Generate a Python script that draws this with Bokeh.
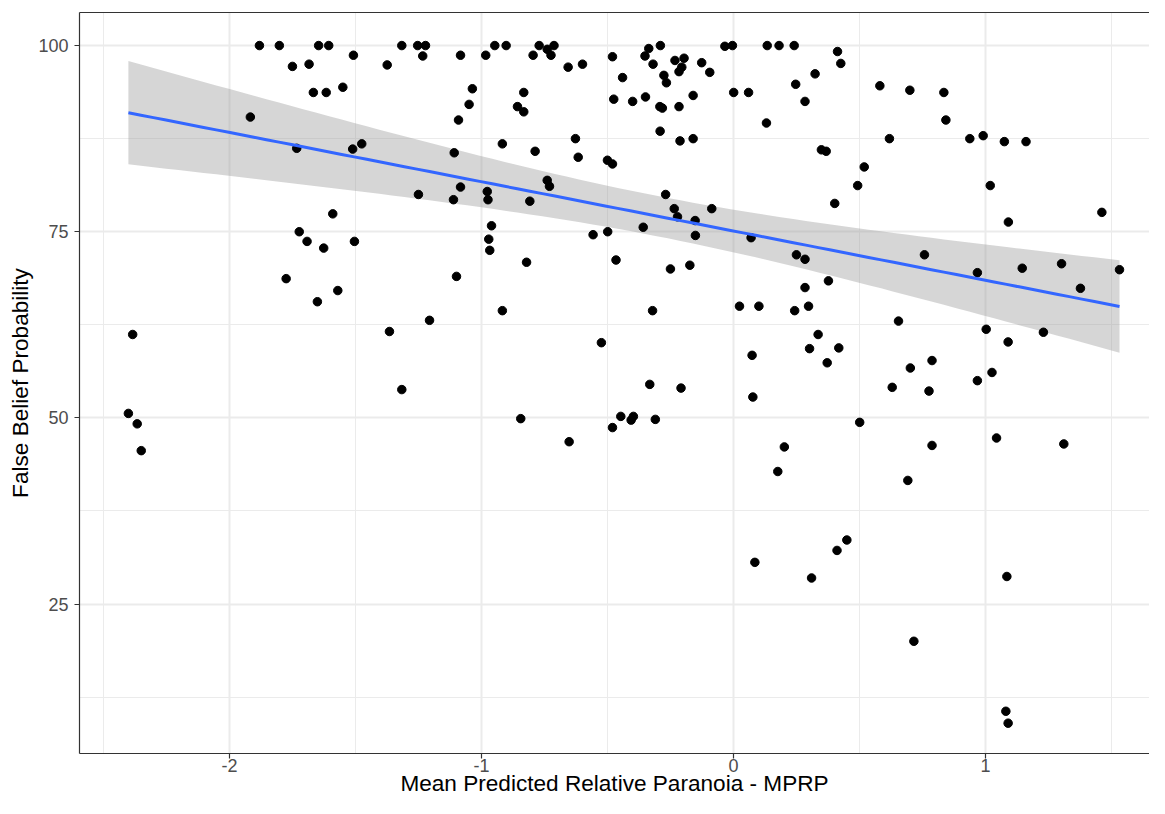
import numpy as np
from bokeh.plotting import figure
from bokeh.models import FixedTicker, LinearAxis, Range1d
from bokeh.embed import file_html
from bokeh.resources import INLINE

# Mean Predicted Relative Paranoia (MPRP) and False Belief Probability
mprp = [
    -1.881, -1.802, -1.646, -1.606, -1.508, -1.316, -1.253, -1.222, -1.233, -1.750,
    -1.684, -1.374, -1.667, -1.616, -1.550, -1.917, -1.733, -1.511, -1.475, -1.250,
    -1.590, -1.723, -1.692, -1.626, -1.504, -1.775, -1.570, -1.651, -1.206, -2.384,
    -1.365, -1.316, -2.401, -2.366, -2.350,
    -1.083, -0.983, -0.947, -0.902, -0.771, -0.795, -0.739, -0.724, -0.712, -0.656,
    -0.599, -1.036, -1.049, -1.091, -0.832, -0.857, -0.832, -0.917, -0.787, -0.627,
    -0.616, -0.500, -0.480, -1.108, -1.083, -1.111, -0.977, -0.974, -0.808, -0.739,
    -0.730, -0.960, -0.971, -0.967, -0.821, -0.557, -0.499, -0.466, -1.099, -0.917,
    -0.524, -0.332, -0.208,
    -0.480, -0.440, -0.475, -0.400, -0.349, -0.351, -0.336, -0.290, -0.319, -0.276,
    -0.266, -0.292, -0.282, -0.232, -0.196, -0.216, -0.205, -0.126, -0.094, -0.216,
    -0.160, -0.291, -0.212, -0.160, -0.034, -0.004, 0.134, 0.181, 0.241, 0.001,
    0.060, 0.247, 0.284, 0.131, -0.269, -0.235, -0.222, -0.152, -0.086, -0.358,
    -0.151, 0.070, -0.250, -0.173, 0.250, 0.284, 0.284, 0.024, 0.101, 0.243,
    0.298, -0.321, 0.074, 0.302,
    0.077, -0.844, -0.652, -0.480, -0.447, -0.406, -0.397, -0.310, 0.202, 0.176,
    0.085, 0.310,
    0.413, 0.426, 0.324, 0.581, 0.700, 0.835, 0.843, 0.619, 0.938, 0.991,
    1.075, 1.161, 0.349, 0.368, 0.519, 0.493, 1.019, 0.402, 1.462, 1.091,
    0.758, 0.968, 1.146, 1.302, 1.532, 1.377, 0.377, 0.655, 0.336, 0.418,
    0.372, 1.003, 1.230, 1.090, 0.702, 0.788, 0.968, 1.026, 0.630, 0.776,
    0.501, 1.044, 1.311, 0.788, 0.692, 0.450, 0.411, 1.085, 0.716, 1.081,
    1.090,
]
false_belief = [
    100.0, 100.0, 100.0, 100.0, 98.7, 100.0, 100.0, 100.0, 98.6, 97.2,
    97.5, 97.4, 93.7, 93.7, 94.4, 90.4, 86.2, 86.1, 86.8, 80.0,
    77.4, 75.0, 73.7, 72.8, 73.7, 68.7, 67.1, 65.6, 63.1, 61.2,
    61.6, 53.8, 50.6, 49.2, 45.6,
    98.7, 98.7, 100.0, 100.0, 100.0, 98.7, 99.5, 98.7, 100.0, 97.1,
    97.5, 94.2, 92.1, 90.0, 93.7, 91.8, 91.1, 86.8, 85.8, 87.5,
    85.0, 84.6, 84.1, 85.6, 81.0, 79.3, 80.4, 79.3, 79.1, 81.9,
    81.1, 75.8, 74.0, 72.5, 70.9, 74.6, 75.0, 71.2, 69.0, 64.4,
    60.1, 54.5, 54.0,
    98.5, 95.7, 92.8, 92.5, 93.1, 98.6, 99.6, 100.0, 97.5, 96.0,
    95.0, 91.8, 91.6, 98.0, 98.3, 96.5, 97.1, 97.7, 96.4, 91.8,
    93.3, 88.5, 87.2, 87.5, 99.9, 100.0, 100.0, 100.0, 100.0, 93.7,
    93.7, 94.8, 92.5, 89.6, 80.0, 78.1, 77.0, 76.5, 78.1, 75.6,
    74.5, 74.2, 70.0, 70.5, 71.9, 71.3, 67.5, 65.0, 65.0, 64.4,
    65.0, 64.4, 58.4, 59.3,
    52.8, 49.9, 46.8, 48.7, 50.2, 49.7, 50.2, 49.8, 46.1, 42.8,
    30.6, 28.5,
    99.2, 97.6, 96.2, 94.6, 94.0, 93.7, 90.0, 87.5, 87.5, 87.9,
    87.1, 87.1, 86.0, 85.8, 83.7, 81.2, 81.2, 78.8, 77.6, 76.3,
    71.9, 69.5, 70.1, 70.7, 69.9, 67.4, 68.4, 63.0, 61.2, 59.4,
    57.4, 61.9, 61.5, 60.2, 56.7, 57.7, 55.0, 56.1, 54.1, 53.6,
    49.4, 47.3, 46.5, 46.3, 41.6, 33.6, 32.2, 28.7, 20.0, 10.6,
    9.0,
]

x_ticks = [-2, -1, 0, 1]
x_tick_labels = ["-2", "-1", "0", "1"]
x_minor = [-2.5, -1.5, -0.5, 0.5, 1.5]
y_ticks = [25, 50, 75, 100]
y_tick_labels = ["25", "50", "75", "100"]
y_minor = [12.5, 37.5, 62.5, 87.5]

x_title = "Mean Predicted Relative Paranoia - MPRP"
y_title = "False Belief Probability"

# linear model fit with 95% confidence band (as geom_smooth(method = "lm"))
x = np.array(mprp)
y = np.array(false_belief)
n = len(x)
slope, intercept = np.polyfit(x, y, 1)
xs = np.linspace(x.min(), x.max(), 80)
fit = intercept + slope * xs
resid = y - (intercept + slope * x)
s = np.sqrt(np.sum(resid ** 2) / (n - 2))
sxx = np.sum((x - x.mean()) ** 2)
se = s * np.sqrt(1.0 / n + (xs - x.mean()) ** 2 / sxx)
tq = 1.972
lo = fit - tq * se
hi = fit + tq * se

FONT = "Liberation Sans"

p = figure(
    width=1149, height=798,
    x_range=Range1d(-2.595, 1.651), y_range=Range1d(4.93, 104.44),
    output_backend="svg", toolbar_location=None,
    min_border_left=79, min_border_right=0, min_border_top=12, min_border_bottom=30,
    background_fill_color="white", border_fill_color="white",
)
p.outline_line_color = None

# grids
p.xaxis.ticker = FixedTicker(ticks=x_ticks, minor_ticks=x_minor)
p.yaxis.ticker = FixedTicker(ticks=y_ticks, minor_ticks=y_minor)
p.xgrid.ticker = FixedTicker(ticks=x_ticks, minor_ticks=x_minor)
p.ygrid.ticker = FixedTicker(ticks=y_ticks, minor_ticks=y_minor)
for g in (p.xgrid, p.ygrid):
    g.grid_line_color = "#EBEBEB"
    g.grid_line_width = 2
    g.minor_grid_line_color = "#EBEBEB"
    g.minor_grid_line_width = 1

# axes
for ax in (p.xaxis, p.yaxis):
    ax.axis_line_color = "#333333"
    ax.axis_line_width = 1.2
    ax.major_tick_line_color = "#333333"
    ax.major_tick_line_width = 1.2
    ax.major_tick_in = 0
    ax.major_tick_out = 5
    ax.minor_tick_line_color = None
    ax.major_label_text_color = "#4D4D4D"
    ax.major_label_text_font = FONT
    ax.major_label_text_font_size = "18px"
    ax.axis_label_text_font = FONT
    ax.axis_label_text_font_size = "22.6px"
    ax.axis_label_text_font_style = "normal"
    ax.axis_label_text_color = "black"

p.xaxis.axis_label = x_title
p.yaxis.axis_label = y_title
p.xaxis.major_label_overrides = {float(t): l for t, l in zip(x_ticks, x_tick_labels)}
p.yaxis.major_label_overrides = {float(t): l for t, l in zip(y_ticks, y_tick_labels)}
p.xaxis.major_label_standoff = 0
p.xaxis.axis_label_standoff = -4
p.yaxis.major_label_standoff = 6
p.yaxis.axis_label_standoff = 2

# top panel border
top = LinearAxis(ticker=FixedTicker(ticks=[]), axis_line_color="#333333", axis_line_width=1.2,
                 major_tick_out=0, major_tick_in=0, minor_tick_out=0, minor_tick_in=0,
                 major_label_standoff=0, axis_label=None)
p.add_layout(top, "above")

# confidence band, points, fit line
p.varea(x=xs, y1=lo, y2=hi, fill_color="#999999", fill_alpha=0.4)
p.scatter(x=mprp, y=false_belief, size=8.5, color="black", line_color="black")
p.line(x=xs, y=fit, line_color="#3366FF", line_width=3)

open("out.html", "w").write(file_html(p, INLINE))
